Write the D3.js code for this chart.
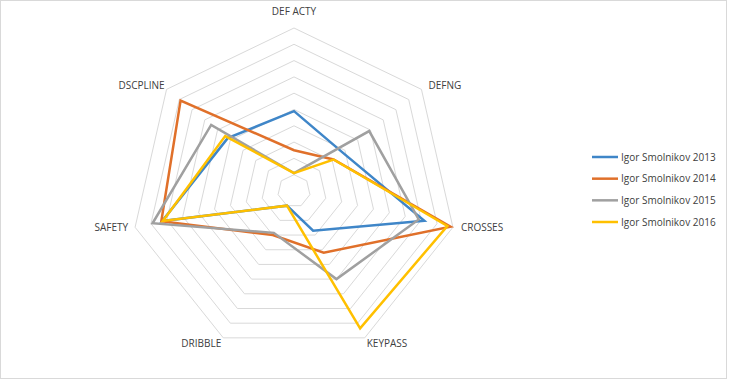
<!DOCTYPE html>
<html>
<head>
<meta charset="utf-8">
<script src="https://cdn.jsdelivr.net/npm/d3@7"></script>
<style>
  html, body { margin: 0; padding: 0; background: #fff; }
  svg { display: block; }
  text { font-family: "Open Sans", "Liberation Sans", sans-serif; fill: #404040; }
</style>
</head>
<body>
<svg id="chart" width="730" height="380"></svg>
<script>
const categories = ["DEF ACTY", "DEFNG", "CROSSES", "KEYPASS", "DRIBBLE", "SAFETY", "DSCPLINE"];
const seriesNames = ["Igor Smolnikov 2013", "Igor Smolnikov 2014", "Igor Smolnikov 2015", "Igor Smolnikov 2016"];
const values2013 = [4.9, 3.8, 8.2, 2.7, 1.0, 8.3, 5.2];
const values2014 = [2.5, 3.1, 9.85, 4.2, 3.0, 8.35, 8.9];
const values2015 = [1.1, 5.9, 7.85, 6.0, 2.85, 8.9, 6.5];
const values2016 = [1.1, 3.1, 9.65, 9.35, 1.0, 8.25, 5.4];
const gridTicks = [1, 2, 3, 4, 5, 6, 7, 8, 9, 10];
const colors = ["#3F86C8", "#E0702A", "#A0A0A0", "#FFC000"];

const seriesValues = [values2013, values2014, values2015, values2016];

const svg = d3.select("#chart");
const cx = 294, cy = 191, R = 163;

// chart border
svg.append("rect").attr("x", 0.5).attr("y", 0.5).attr("width", 726).attr("height", 378)
  .attr("fill", "#fff").attr("stroke", "#d9d9d9").attr("stroke-width", 1);

const r = d3.scaleLinear().domain([0, 10]).range([0, R]);
const angle = d3.scaleLinear().domain([0, categories.length]).range([0, 2 * Math.PI]);

function pt(i, v) {
  const a = angle(i) - Math.PI / 2;
  return [cx + r(v) * Math.cos(a), cy + r(v) * Math.sin(a)];
}

const g = svg.append("g");

// grid rings
gridTicks.forEach(t => {
  const pts = categories.map((c, i) => pt(i, t));
  g.append("polygon")
    .attr("points", pts.map(p => p.join(",")).join(" "))
    .attr("fill", "none")
    .attr("stroke", "#d9d9d9")
    .attr("stroke-width", 1);
});

// axis labels
const labelPos = [
  {dx: 0, dy: -13, anchor: "middle"},
  {dx: 7, dy: 0, anchor: "start"},
  {dx: 8, dy: 4, anchor: "start"},
  {dx: 2, dy: 9, anchor: "start"},
  {dx: -2, dy: 9, anchor: "end"},
  {dx: -7, dy: 4, anchor: "end"},
  {dx: -2, dy: 0, anchor: "end"}
];
categories.forEach((c, i) => {
  const p = pt(i, 10);
  g.append("text")
    .attr("x", p[0] + labelPos[i].dx)
    .attr("y", p[1] + labelPos[i].dy)
    .attr("text-anchor", labelPos[i].anchor)
    .attr("font-size", 10)
    .text(c);
});

// series lines
const line = d3.line().curve(d3.curveLinearClosed);
seriesValues.forEach((vals, s) => {
  g.append("path")
    .attr("d", line(vals.map((v, i) => pt(i, v))))
    .attr("fill", "none")
    .attr("stroke", colors[s])
    .attr("stroke-width", 2.5)
    .attr("stroke-linejoin", "miter");
});

// legend
const legendY = d3.scalePoint().domain(seriesNames).range([157, 222]);
const lg = svg.append("g");
seriesNames.forEach((n, s) => {
  const y = legendY(n);
  lg.append("line").attr("x1", 592).attr("x2", 618).attr("y1", y).attr("y2", y)
    .attr("stroke", colors[s]).attr("stroke-width", 2.5);
  lg.append("text").attr("x", 621).attr("y", y + 3.5).attr("font-size", 10).text(n);
});
</script>
</body>
</html>
